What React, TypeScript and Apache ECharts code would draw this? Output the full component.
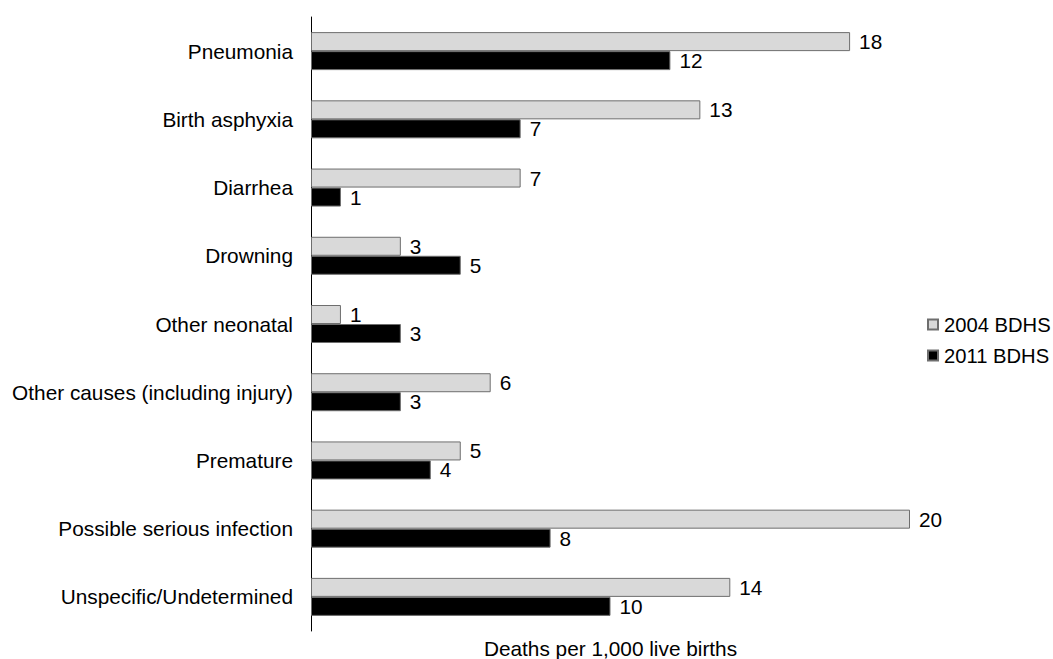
import React, { useEffect, useRef } from "react";
import * as echarts from "echarts";

const categories = [
  "Pneumonia",
  "Birth asphyxia",
  "Diarrhea",
  "Drowning",
  "Other neonatal",
  "Other causes (including injury)",
  "Premature",
  "Possible serious infection",
  "Unspecific/Undetermined",
];
const series2004 = [18, 13, 7, 3, 1, 6, 5, 20, 14];
const series2011 = [12, 7, 1, 5, 3, 3, 4, 8, 10];
const seriesNames = ["2004 BDHS", "2011 BDHS"];
const axisTitle = "Deaths per 1,000 live births";

export default function App() {
  const ref = useRef<HTMLDivElement>(null);
  useEffect(() => {
    if (!ref.current) return;
    const chart = echarts.init(ref.current, null, { renderer: "svg" });
    const font = "Liberation Sans, Arial, sans-serif";
    const fs = 20.8;
    chart.setOption({
      animation: false,
      textStyle: { fontFamily: font },
      grid: { left: 311, top: 17, width: 599, height: 614, outerBoundsMode: "none", containLabel: false },
      legend: {
        orient: "vertical",
        left: 927,
        top: 309,
        icon: "rect",
        itemWidth: 10,
        itemHeight: 10,
        itemGap: 0,
        padding: 0,
        data: seriesNames,
        textStyle: { fontSize: 20.2, lineHeight: 31, color: "#000", fontFamily: font, padding: [0, 0, 0, 1] },
      },
      xAxis: {
        type: "value",
        min: 0,
        max: 20,
        name: axisTitle,
        nameLocation: "middle",
        nameGap: 7,
        nameTextStyle: { fontSize: fs, color: "#000", fontFamily: font },
        axisLine: { show: false },
        axisTick: { show: false },
        axisLabel: { show: false },
        splitLine: { show: false },
      },
      yAxis: {
        type: "category",
        inverse: true,
        data: categories,
        axisLine: { show: true, lineStyle: { color: "#000", width: 1 } },
        axisTick: { show: false },
        axisLabel: { fontSize: fs, color: "#000", margin: 18, fontFamily: font },
      },
      series: [
        {
          name: seriesNames[0],
          type: "bar",
          data: series2004,
          barWidth: 19,
          barGap: "0%",
          itemStyle: { color: "#d9d9d9", borderColor: "#6e6e6e", borderWidth: 1 },
          label: { show: true, position: "right", distance: 9, fontSize: fs, color: "#000", fontFamily: font },
        },
        {
          name: seriesNames[1],
          type: "bar",
          data: series2011,
          barWidth: 19,
          barGap: "0%",
          itemStyle: { color: "#000", borderColor: "#6e6e6e", borderWidth: 1 },
          label: { show: true, position: "right", distance: 9, fontSize: fs, color: "#000", fontFamily: font },
        },
      ],
    });
    return () => chart.dispose();
  }, []);
  return (
    <div
      ref={ref}
      style={{ position: "absolute", left: 0, top: 0, width: 1053, height: 659 }}
    />
  );
}
